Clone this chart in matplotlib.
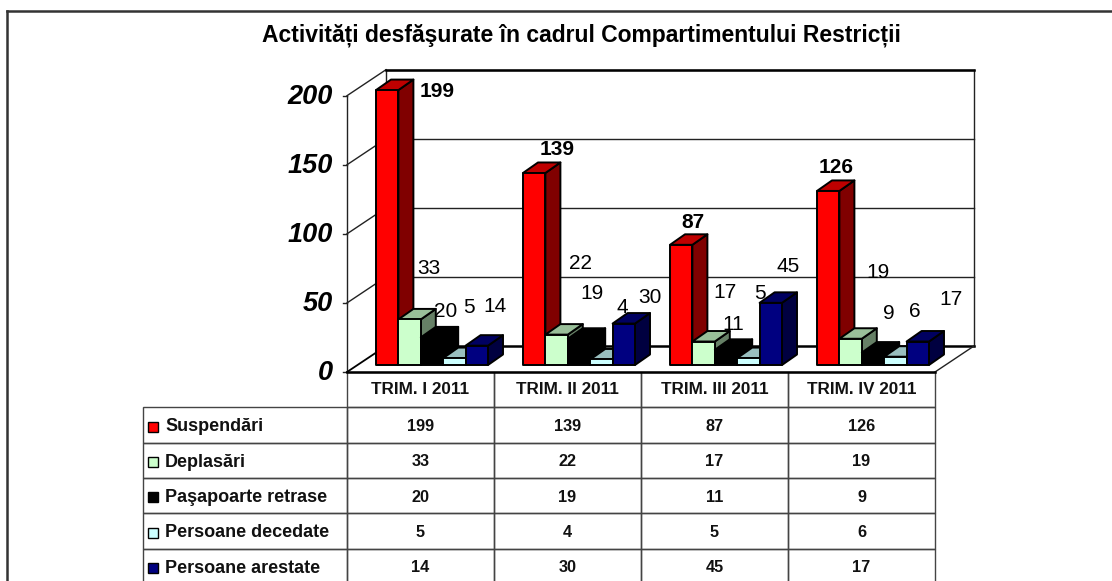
import matplotlib
matplotlib.use('Agg')
import matplotlib.pyplot as plt
from matplotlib.lines import Line2D
from matplotlib.patches import Polygon, Rectangle

plt.rcParams['font.family'] = ['Liberation Sans', 'DejaVu Sans']

# date
title = 'Activități desfăşurate în cadrul Compartimentului Restricții'
categorii = ['TRIM. I 2011', 'TRIM. II 2011', 'TRIM. III 2011', 'TRIM. IV 2011']
serii = ['Suspendări', 'Deplasări', 'Paşapoarte retrase', 'Persoane decedate', 'Persoane arestate']
suspendari = [199, 139, 87, 126]
deplasari = [33, 22, 17, 19]
pasapoarte = [20, 19, 11, 9]
decedate = [5, 4, 5, 6]
arestate = [14, 30, 45, 17]
valori = [suspendari, deplasari, pasapoarte, decedate, arestate]
y_ticks = [0, 50, 100, 150, 200]

# culori: fata, sus, lateral
culori = [
    ('#ff0000', '#bf0000', '#800000'),
    ('#ccffcc', '#99bf99', '#668066'),
    ('#000000', '#000000', '#000000'),
    ('#ccffff', '#99bfbf', '#668080'),
    ('#000080', '#000060', '#000040'),
]

# decalaj etichete, in pixeli, fata de mijlocul muchiei de sus a barei
decalaje = [
    [(50, -1), (23, 23), (12, 22), (8, 23)],
    [(19, 51), (24, 71), (21, 49), (27, 66)],
    [(14, 26), (13, 45), (7, 25), (16, 39)],
    [(15, 51), (21, 52), (12, 65), (19, 45)],
    [(18, 39), (26, 26), (17, 36), (33, 42)],
]

W, H = 1112, 581
fig = plt.figure(figsize=(W / 100, H / 100), dpi=100, facecolor='white')

# axa = peretele din fata al graficului
ax_left, ax_right, ax_bottom, ax_top = 347, 935, 372, 95.7
ax = fig.add_axes([ax_left / W, 1 - ax_bottom / H, (ax_right - ax_left) / W, (ax_bottom - ax_top) / H])
ax.set_xlim(0, 4)
ax.set_ylim(0, 200)
ax.axis('off')

px_x = 4 / (ax_right - ax_left)
px_y = 200 / (ax_bottom - ax_top)

# adancimea peretilor
depth_x = 39 * px_x
depth_y = 26 * px_y

# pereti
line = dict(color='#222222', lw=1.0, clip_on=False, zorder=1)
heavy = dict(color='black', lw=1.8, clip_on=False, zorder=1)
for t in y_ticks[1:]:
    ax.plot([depth_x, 4 + depth_x], [t + depth_y, t + depth_y], **line)
    ax.plot([0, depth_x], [t, t + depth_y], **line)
    ax.plot([-4 * px_x, 0], [t, t], **line)
ax.plot([-4 * px_x, 0], [0, 0], **line)
ax.plot([0, 0], [0, 200], **line)
ax.plot([depth_x, depth_x], [depth_y, 200 + depth_y], **line)
ax.plot([4 + depth_x, 4 + depth_x], [depth_y, 200 + depth_y], **line)
ax.plot([depth_x, 4 + depth_x], [200 + depth_y] * 2, **heavy)
ax.plot([depth_x, 4 + depth_x], [depth_y, depth_y], **heavy)
ax.plot([0, depth_x], [0, depth_y], color='black', lw=1.3, clip_on=False, zorder=1)
ax.plot([4, 4 + depth_x], [0, depth_y], **line)
ax.plot([0, 4], [0, 0], **heavy)

for t in y_ticks:
    ax.text(-14 * px_x, t - 1.5 * px_y, str(t), ha='right', va='center', fontsize=19.5,
            fontweight='bold', fontstyle='italic')

# bare
bar_w = 22.4 * px_x
bar_dx = 15 * px_x
bar_dy = 10.5 * px_y
base = 7 * px_y
start = 29 * px_x


def bara(x, v, c, z):
    x2 = x + bar_w
    y0 = base
    y1 = base + v
    style = dict(edgecolor='black', lw=1.4, clip_on=False, zorder=z, joinstyle='round')
    ax.add_patch(Polygon([(x2, y0), (x2 + bar_dx, y0 + bar_dy), (x2 + bar_dx, y1 + bar_dy), (x2, y1)],
                         facecolor=c[2], **style))
    ax.add_patch(Polygon([(x, y1), (x + bar_dx, y1 + bar_dy), (x2 + bar_dx, y1 + bar_dy), (x2, y1)],
                         facecolor=c[1], **style))
    ax.add_patch(Polygon([(x, y0), (x2, y0), (x2, y1), (x, y1)], facecolor=c[0], **style))


z = 2
for g in range(len(categorii)):
    for s in range(len(serii)):
        x = g + start + s * bar_w
        v = valori[s][g]
        bara(x, v, culori[s], z)
        z += 1
        ax.annotate(str(v), (x + bar_w / 2, base + v), xytext=decalaje[s][g], textcoords='offset pixels',
                    ha='center', va='center', fontsize=15, color='black',
                    fontweight='bold' if s == 0 else 'normal', zorder=100, annotation_clip=False)

# tabel (bbox-ul acopera doar celulele de date, nu si coloana de etichete)
tbl_left, row_h = 143, 35.3
plot_w = ax_right - ax_left
plot_h = ax_bottom - ax_top
rows = [[str(v) for v in serie] for serie in valori]
tb = ax.table(cellText=rows, rowLabels=serii, colLabels=categorii, cellLoc='center', rowLoc='left',
              colWidths=[0.25] * 4, bbox=[0, -6 * row_h / plot_h, 1, 6 * row_h / plot_h])
tb.auto_set_font_size(False)
tb._autoColumns.clear()
for (r, c), cell in tb.get_celld().items():
    cell.set_edgecolor('#444444')
    cell.set_linewidth(1.0)
    cell.set_facecolor('none')
    cell.set_text_props(fontweight='bold', fontsize=11.7, color='#111111')
    cell.set_clip_on(False)
    if r == 0:
        cell.set_text_props(fontsize=12.3)
    else:
        cell.set_text_props(va='center_baseline')
    if c == -1:
        cell.PAD = 0.108
        cell.set_text_props(fontsize=13)
        cell.set_width((ax_left - tbl_left) / plot_w)

# cheile legendei
for i in range(len(serii)):
    yc = 409 + (i + 0.5) * row_h
    fig.add_artist(Rectangle((148 / W, 1 - (yc + 5) / H), 10 / W, 10 / H, transform=fig.transFigure,
                             facecolor=culori[i][0], edgecolor='black', lw=1.0))

# chenar exterior: sus si stanga
frame_top = 1 - 11 / H
fig.add_artist(Line2D([7 / W, 1], [frame_top, frame_top], transform=fig.transFigure, color='#333333', lw=1.8))
fig.add_artist(Line2D([7 / W, 7 / W], [0, frame_top], transform=fig.transFigure, color='#333333', lw=1.8))

fig.text(581.5 / W, 1 - 35 / H, title, ha='center', va='center', fontsize=16.5, fontweight='bold')

fig.savefig('out.png', dpi=100)
